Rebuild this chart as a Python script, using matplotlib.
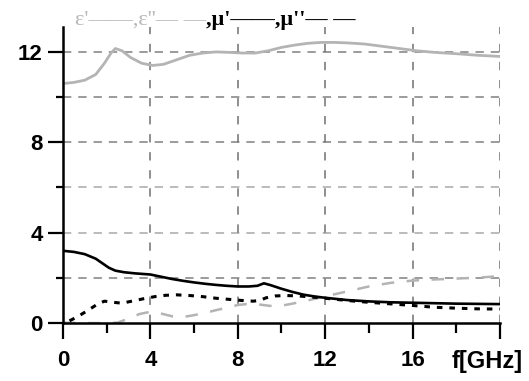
import matplotlib
matplotlib.use("Agg")
import matplotlib.pyplot as plt

# Frequency axis (GHz) and measured permittivity / permeability curves
eps_re_f = [0, 0.5, 1.0, 1.5, 1.9, 2.2, 2.4, 2.7, 3.1, 3.6, 4.1, 4.6, 5.2, 5.8, 6.4, 7.0,
            7.6, 8.2, 8.8, 9.4, 10.0, 10.6, 11.2, 11.8, 12.4, 13.0, 13.8, 14.6, 15.4,
            16.2, 17.0, 18.0, 19.0, 20.0]
eps_re = [10.6, 10.65, 10.75, 11.0, 11.5, 11.95, 12.15, 12.05, 11.75, 11.5, 11.4, 11.45,
          11.65, 11.85, 11.95, 12.0, 11.98, 11.95, 11.95, 12.05, 12.2, 12.3, 12.38, 12.42,
          12.42, 12.4, 12.35, 12.25, 12.15, 12.05, 11.98, 11.92, 11.85, 11.8]

eps_im_f = [0, 1, 2, 2.5, 3.0, 3.5, 4.0, 4.5, 5.0, 5.5, 6.0, 6.5, 7.0, 7.5, 8.0, 8.5, 9.0,
            9.5, 10.0, 10.5, 11.0, 11.5, 12.0, 13.0, 14.0, 15.0, 16.0, 17.0, 18.0, 19.0, 20.0]
eps_im = [0.02, 0.0, 0.0, 0.02, 0.2, 0.4, 0.5, 0.42, 0.3, 0.27, 0.35, 0.45, 0.57, 0.68,
          0.8, 0.85, 0.82, 0.76, 0.77, 0.86, 0.96, 1.07, 1.18, 1.4, 1.62, 1.78, 1.88,
          1.93, 1.97, 2.01, 2.08]

mu_re_f = [0, 0.5, 1.0, 1.5, 1.8, 2.1, 2.4, 2.8, 3.3, 4.0, 4.5, 5.0, 5.5, 6.0, 6.5, 7.0,
           7.5, 8.0, 8.5, 8.9, 9.2, 9.5, 10.0, 10.5, 11.0, 11.5, 12.0, 13.0, 14.0, 15.0,
           16.0, 17.0, 18.0, 19.0, 20.0]
mu_re = [3.2, 3.15, 3.05, 2.85, 2.65, 2.45, 2.32, 2.25, 2.2, 2.15, 2.05, 1.95, 1.87, 1.8,
         1.74, 1.69, 1.65, 1.62, 1.62, 1.65, 1.76, 1.68, 1.52, 1.38, 1.26, 1.18, 1.12,
         1.02, 0.96, 0.92, 0.9, 0.88, 0.86, 0.85, 0.84]

mu_im_f = [0.3, 0.7, 1.2, 1.6, 1.9, 2.3, 2.7, 3.2, 3.7, 4.2, 4.7, 5.2, 5.8, 6.4, 7.0, 7.6,
           8.2, 8.7, 9.0, 9.3, 9.7, 10.2, 10.8, 11.4, 12.0, 13.0, 14.0, 15.0, 16.0, 17.0,
           18.0, 19.0, 20.0]
mu_im = [0.1, 0.3, 0.6, 0.85, 0.97, 0.92, 0.88, 0.98, 1.08, 1.17, 1.23, 1.25, 1.22, 1.17,
         1.1, 1.05, 1.0, 0.97, 1.0, 1.12, 1.2, 1.22, 1.2, 1.15, 1.1, 1.0, 0.92, 0.85,
         0.78, 0.7, 0.66, 0.63, 0.62]

x_major = [0, 4, 8, 12, 16, 20]
x_labels = ["0", "4", "8", "12", "16", ""]
x_minor = [2, 6, 10, 14, 18]
y_major = [0, 4, 8, 12]
y_labels = ["0", "4", "8", "12"]
y_minor = [2, 6, 10]

plt.rcParams["lines.scale_dashes"] = False

fig = plt.figure(figsize=(5.29, 3.81), dpi=100)
ax = fig.add_axes([0.119, 0.152, 0.826, 0.777])
ax.set_xlim(0, 20)
ax.set_ylim(0, 13.1)

# grid
for yv, col in [(2, "#808080"), (4, "#a8a8a8"), (6, "#a8a8a8"), (8, "#808080"),
                (10, "#808080"), (12, "#808080")]:
    ax.axhline(yv, color=col, lw=1.1, ls=(0, (6, 5)), zorder=1)
for xv in [4, 8, 12, 16, 20]:
    ax.axvline(xv, color="#707070", lw=1.1, ls=(0, (6, 7)), zorder=1)

# curves
ax.plot(eps_re_f, eps_re, color="#b4b4b4", lw=2.0, zorder=3)
ax.plot(eps_im_f, eps_im, color="#b4b4b4", lw=1.8, ls=(0, (9, 9)), zorder=3)
ax.plot(mu_re_f, mu_re, color="black", lw=1.9, zorder=4)
ax.plot(mu_im_f, mu_im, color="black", lw=2.2, ls=(0, (4, 5)), zorder=4)

# axes styling
for s in ["top", "right"]:
    ax.spines[s].set_visible(False)
for s in ["left", "bottom"]:
    ax.spines[s].set_linewidth(1.8)
    ax.spines[s].set_zorder(5)

ax.set_xticks(x_major)
ax.set_xticklabels(x_labels)
ax.set_xticks(x_minor, minor=True)
ax.set_yticks(y_major)
ax.set_yticklabels(y_labels)
ax.set_yticks(y_minor, minor=True)

ax.tick_params(axis="x", which="major", direction="out", length=11.5, width=1.6,
               pad=8, labelsize=16)
ax.tick_params(axis="x", which="minor", direction="out", length=7, width=1.6)
ax.tick_params(axis="y", which="major", direction="out", length=10.5, width=1.6,
               pad=4, labelsize=16)
ax.tick_params(axis="y", which="minor", direction="out", length=5, width=1.6)
for lbl in ax.get_xticklabels() + ax.get_yticklabels():
    lbl.set_fontweight("bold")
    lbl.set_family("Liberation Sans")

ax.text(21.05, -1.72, "f[GHz]", ha="right", va="center", fontsize=17,
        fontweight="bold", family="Liberation Sans", clip_on=False)

# legend line of text across the top
fig.canvas.draw()
renderer = fig.canvas.get_renderer()
t1 = fig.text(75 / 529, 1 - 20 / 381, "\u03b5'\u2014\u2014,\u03b5''\u2014 \u2014",
              color="#b8b8b8", fontsize=16, family="Liberation Serif", va="center")
bb = t1.get_window_extent(renderer=renderer)
x2 = bb.x1 / fig.bbox.width
fig.text(x2, 1 - 20 / 381, ",\u03bc'\u2014\u2014,\u03bc''\u2014 \u2014", color="black",
         fontsize=16, family="Liberation Serif", fontweight="bold", va="center")

fig.savefig("out.png", dpi=100)
